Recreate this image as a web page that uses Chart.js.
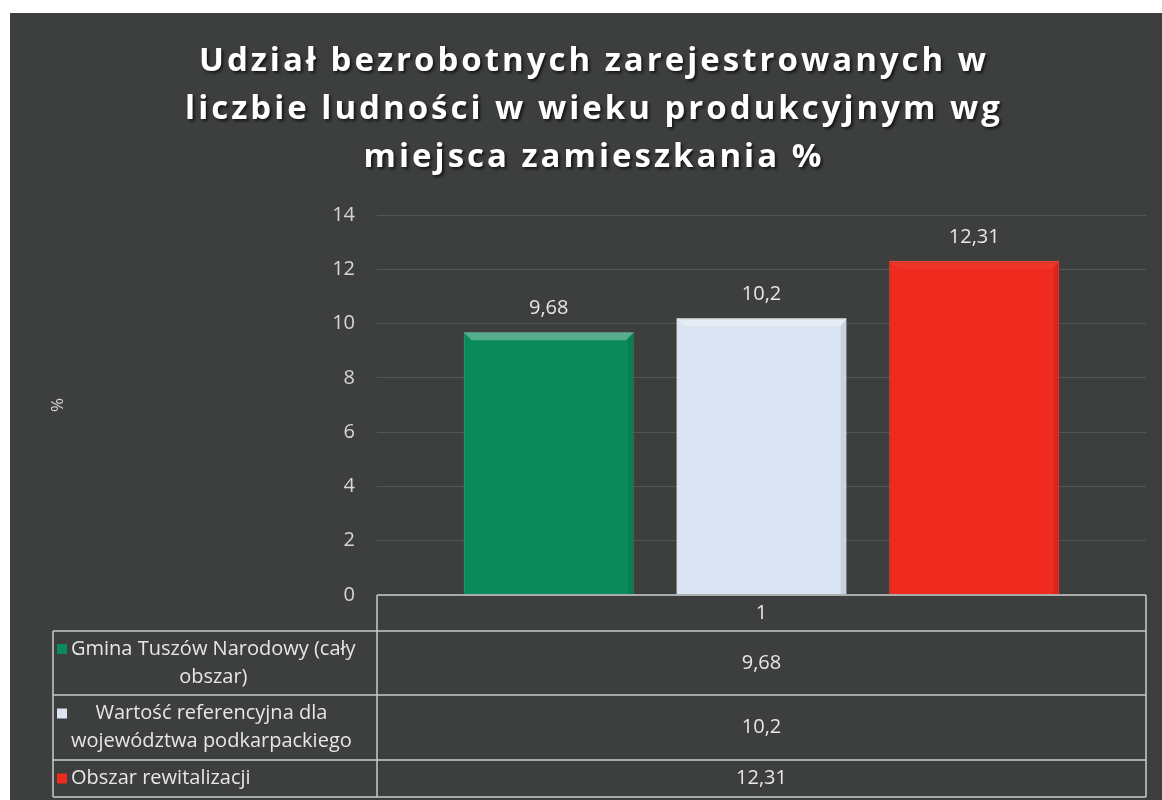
<!DOCTYPE html>
<html>
<head>
<meta charset="utf-8">
<script src="https://cdn.jsdelivr.net/npm/chart.js@4"></script>
<style>
    body { margin: 0; background: #ffffff; }
    #wrap { position: absolute; left: 10px; top: 13px; width: 1152px; height: 787px; background: #3c3f3d; }
</style>
</head>
<body>
<div id="wrap"><canvas id="unemployment" width="1152" height="787"></canvas></div>
<script>
// values
const categories = ['1'];
const seriesNames = ['Gmina Tuszów Narodowy (cały obszar)', 'Wartość referencyjna dla województwa podkarpackiego', 'Obszar rewitalizacji'];
const seriesValues = [[9.68], [10.2], [12.31]];
const seriesColors = ['#0b8a5b', '#dbe4f2', '#ef2a1f'];
const seriesBorders = ['#1a9a68', '#f4f7fc', '#f5392d'];
const yTicks = [0, 2, 4, 6, 8, 10, 12, 14];
const chartTitle = ['Udział bezrobotnych zarejestrowanych w', 'liczbie ludności w wieku produkcyjnym wg', 'miejsca zamieszkania %'];

const txtColor = '#e6e6e6';
const lineColor = '#c9cbca';
const baseFont = '20px "Open Sans"';

function plNum(v) {
    return String(v).replace('.', ',');
}

// title drawn by hand so it can get letter spacing + shadow like the excel one
const spacedTitle = {
    id: 'spacedTitle',
    beforeDraw(chart) {
        let ctx = chart.ctx;
        ctx.save();
        ctx.font = 'bold 33px "Open Sans"';
        ctx.letterSpacing = '3px';
        ctx.fillStyle = '#ffffff';
        ctx.textAlign = 'center';
        ctx.textBaseline = 'middle';
        ctx.shadowColor = 'rgba(0,0,0,0.65)';
        ctx.shadowOffsetX = 2;
        ctx.shadowOffsetY = 2;
        ctx.shadowBlur = 3;
        chartTitle.forEach((line, i) => {
            ctx.fillText(line, chart.width / 2 + 8, 49 + i * 48);
        });
        ctx.restore();
    }
};

// labels above the bars
const valueLabels = {
    id: 'valueLabels',
    afterDatasetsDraw(chart) {
        let ctx = chart.ctx;
        ctx.save();
        chart.data.datasets.forEach((ds, i) => {
            chart.getDatasetMeta(i).data.forEach((bar, j) => {
                // a bit of bevel on the top edge
                let w = bar.width, x0 = bar.x - w / 2, x1 = bar.x + w / 2, y = bar.y;
                ctx.fillStyle = i == 2 ? 'rgba(255,255,255,0.05)' : 'rgba(255,255,255,0.3)';
                ctx.beginPath();
                ctx.moveTo(x0, y); ctx.lineTo(x1, y); ctx.lineTo(x1 - 8, y + 8); ctx.lineTo(x0 + 8, y + 8);
                ctx.closePath();
                ctx.fill();
                ctx.fillStyle = 'rgba(0,0,0,0.08)';
                ctx.beginPath();
                ctx.moveTo(x1, y); ctx.lineTo(x1, bar.base); ctx.lineTo(x1 - 6, bar.base); ctx.lineTo(x1 - 6, y + 8);
                ctx.closePath();
                ctx.fill();

                ctx.font = baseFont;
                ctx.fillStyle = txtColor;
                ctx.textAlign = 'center';
                ctx.textBaseline = 'middle';
                ctx.fillText(plNum(ds.data[j]), bar.x, bar.y - 24);
            });
        });
        ctx.restore();
    }
};

// excel-like data table under the plot
function wrapLines(ctx, text, maxW) {
    let words = text.split(' ');
    let lines = [];
    let cur = '';
    words.forEach(w => {
        let t = cur ? cur + ' ' + w : w;
        if (ctx.measureText(t).width > maxW && cur) {
            lines.push(cur);
            cur = w;
        } else {
            cur = t;
        }
    });
    if (cur) lines.push(cur);
    return lines;
}

const dataTable = {
    id: 'dataTable',
    afterDraw(chart) {
        let ctx = chart.ctx;
        let area = chart.chartArea;
        let colLeft = 43;
        let b = area.bottom;
        let rowTops = [b, b + 36, b + 100, b + 165, b + 202];
        let rightX = area.right;
        let midX = (area.left + rightX) / 2;

        ctx.save();
        ctx.strokeStyle = lineColor;
        ctx.lineWidth = 1.5;
        ctx.beginPath();
        ctx.moveTo(area.left, rowTops[0]); ctx.lineTo(rightX, rowTops[0]);
        for (let r = 1; r < rowTops.length; r++) {
            ctx.moveTo(colLeft, rowTops[r]); ctx.lineTo(rightX, rowTops[r]);
        }
        ctx.moveTo(area.left, rowTops[0]); ctx.lineTo(area.left, rowTops[4]);
        ctx.moveTo(rightX, rowTops[0]); ctx.lineTo(rightX, rowTops[4]);
        ctx.moveTo(colLeft, rowTops[1]); ctx.lineTo(colLeft, rowTops[4]);
        ctx.stroke();

        ctx.font = baseFont;
        ctx.fillStyle = txtColor;
        ctx.textBaseline = 'middle';
        ctx.textAlign = 'center';
        ctx.fillText(chart.data.labels[0], midX, (rowTops[0] + rowTops[1]) / 2);

        chart.data.datasets.forEach((ds, i) => {
            let top = rowTops[i + 1], bot = rowTops[i + 2];
            let cy = (top + bot) / 2;
            ctx.fillStyle = txtColor;
            ctx.fillText(plNum(ds.data[0]), midX, cy);

            let lines = wrapLines(ctx, ds.label, 300);
            let boxW = Math.max(...lines.map(l => ctx.measureText(l).width));
            let lh = 28;
            let y0 = cy - (lines.length - 1) * lh / 2;
            let markX = colLeft + 4;
            let boxX = markX + 14;
            lines.forEach((l, k) => {
                ctx.fillText(l, boxX + boxW / 2, y0 + k * lh);
            });
            ctx.fillStyle = ds.backgroundColor;
            ctx.fillRect(markX, y0 - 5, 10, 10);
        });
        ctx.restore();
    }
};

var ctx = document.getElementById('unemployment');
var data = {
    labels: categories,
    datasets: seriesNames.map((name, i) => ({
        label: name,
        data: seriesValues[i],
        backgroundColor: seriesColors[i],
        borderColor: seriesBorders[i],
        borderWidth: 1.5,
        categoryPercentage: 0.83,
        barPercentage: 0.8
    }))
};

var options = {
    responsive: false,
    animation: false,
    devicePixelRatio: 1,
    layout: {
        padding: { left: 0, right: 16, top: 202, bottom: 205 }
    },
    plugins: {
        legend: { display: false },
        tooltip: { enabled: false },
        title: { display: false }
    },
    scales: {
        x: { display: false },
        y: {
            min: 0,
            max: 14,
            afterBuildTicks: scale => { scale.ticks = yTicks.map(v => ({ value: v })); },
            afterFit: scale => { scale.width = 367; },
            border: { display: false },
            grid: { color: 'rgba(255,255,255,0.13)', drawTicks: false, lineWidth: 1 },
            ticks: { color: '#d6d6d6', font: { family: '"Open Sans"', size: 20 }, padding: 22 },
            title: {
                display: true,
                text: '%',
                color: '#d6d6d6',
                font: { family: '"Open Sans"', size: 17 },
                padding: { top: 38, bottom: 0 }
            }
        }
    }
};

var unemploymentChart = new Chart(ctx, {
    type: 'bar',
    data: data,
    options: options,
    plugins: [spacedTitle, valueLabels, dataTable]
});
</script>
</body>
</html>
